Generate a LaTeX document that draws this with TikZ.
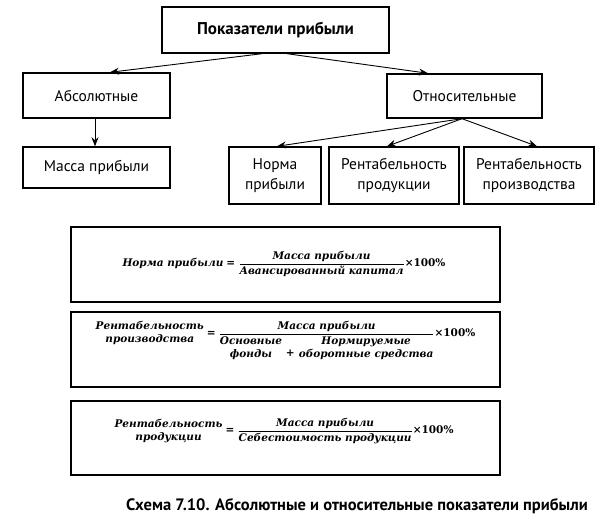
\documentclass[tikz,border=0pt]{standalone}
\usepackage{fontspec}
\usepackage{amsmath}
\setmainfont{PT Sans}
\newfontfamily\ff{DejaVu Serif}
\usetikzlibrary{arrows.meta}
\tikzset{
  box/.style={draw=black, line width=1.4pt, fill=white, align=center, inner sep=0pt, font=\fontsize{15.5}{20}\selectfont},
  fbox/.style={draw=black, line width=1.4pt, inner sep=0pt},
  arr/.style={-{Stealth[length=9pt,width=7pt]}, line width=0.9pt},
  ftext/.style={inner sep=0pt, font=\ff\bfseries\itshape\fontsize{10.5}{13}\selectfont},
}
\newcommand{\stk}[1]{\begin{tabular}{@{}c@{}}#1\end{tabular}}
\newcommand{\pct}{\text{\upshape\bfseries ×100\%}}
\newcommand{\eqs}{\mathrel{\text{\upshape\bfseries =}}}
\newcommand{\pls}{\text{\upshape\bfseries\hspace{4pt}\raisebox{-5pt}{+}\hspace{4pt}}}
\begin{document}
\begin{tikzpicture}[x=1pt,y=-1pt]
\useasboundingbox (0,0) rectangle (609,526);
\node[box, minimum width=227pt, minimum height=46pt, font=\bfseries\fontsize{17}{20}\selectfont] (top) at (275.5,30) {Показатели прибыли};
\node[box, minimum width=147pt, minimum height=45pt] (abs) at (96.5,95.5) {Абсолютные};
\node[box, minimum width=147pt, minimum height=41pt] (mass) at (96.5,167.5) {Масса прибыли};
\node[box, minimum width=155pt, minimum height=44pt] (otn) at (464.5,96) {Относительные};
\node[box, minimum width=92pt, minimum height=57pt] (norma) at (275,175.5) {Норма\\прибыли};
\node[box, minimum width=130pt, minimum height=57pt] (rprod) at (394,175.5) {Рентабельность\\продукции};
\node[box, minimum width=130pt, minimum height=57pt] (rproizv) at (529,175.5) {Рентабельность\\производства};

\draw[arr] ([xshift=-13.5pt]top.south) -- ([xshift=13.5pt]abs.north);
\draw[arr] ([xshift=11.5pt]top.south) -- ([xshift=-36.5pt]otn.north);
\draw[arr] ([xshift=-1.5pt]abs.south) -- ([xshift=-1.5pt]mass.north);
\draw[arr] ([xshift=-2.5pt]otn.south) -- ([xshift=2pt]norma.north);
\draw[arr] ([xshift=-2.5pt]otn.south) -- ([xshift=-7pt]rprod.north);
\draw[arr] ([xshift=-2.5pt]otn.south) -- ([xshift=8pt]rproizv.north);

\node[fbox, minimum width=429pt, minimum height=75pt] (f1) at (285.5,264.5) {};
\node[fbox, minimum width=429pt, minimum height=75pt] (f2) at (285.5,349.5) {};
\node[fbox, minimum width=429pt, minimum height=74pt] (f3) at (285.5,438) {};

\node[ftext] (e1) at (284,264) {$\text{Норма прибыли}\eqs\dfrac{\text{Масса прибыли}}{\text{Авансированный капитал}}\pct$};
\node[ftext] (e2) at (285.5,341) {$\text{\stk{Рентабельность\\производства}}\eqs\dfrac{\text{Масса прибыли}}{\text{\stk{Основные\\фонды}}\pls\text{\stk{Нормируемые\\оборотные средства}}}\pct$};
\node[ftext] (e3) at (284,431) {$\text{\stk{Рентабельность\\продукции}}\eqs\dfrac{\text{Масса прибыли}}{\text{Себестоимость продукции}}\pct$};

\node[inner sep=0pt, font=\bfseries\fontsize{16.5}{20}\selectfont] (cap) at (357,506) {Схема 7.10. Абсолютные и относительные показатели прибыли};
\end{tikzpicture}
\end{document}
